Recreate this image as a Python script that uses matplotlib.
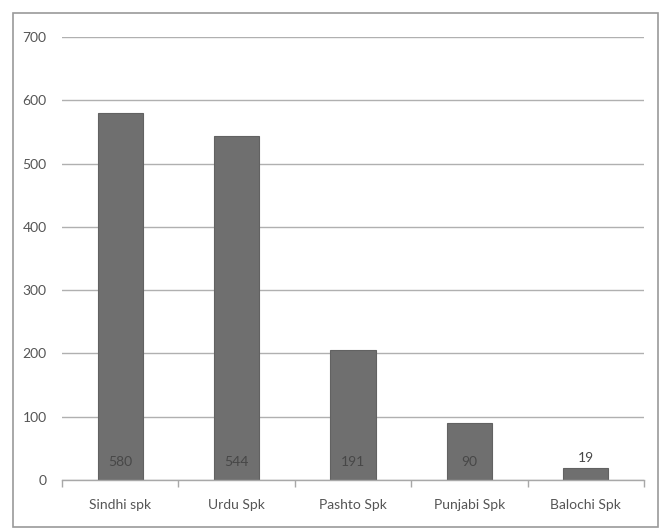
import matplotlib.pyplot as plt
from matplotlib.patches import Rectangle
import numpy as np

categories = ['Sindhi spk', 'Urdu Spk', 'Pashto Spk', 'Punjabi Spk', 'Balochi Spk']
bar_values = [580, 544, 205, 90, 19]
bar_labels = ['580', '544', '191', '90', '19']
y_ticks = [0, 100, 200, 300, 400, 500, 600, 700]

plt.rcParams['font.family'] = ['Lato', 'DejaVu Sans']

fig = plt.figure(figsize=(6.66, 5.32), dpi=100)
fig.patch.set_facecolor('white')

# outer chart frame
fig.patches.append(Rectangle((13 / 666, 5 / 532), 645 / 666, 514 / 532,
                             transform=fig.transFigure, fill=False,
                             edgecolor='#9a9a9a', lw=1.2))

ax = fig.add_axes([62 / 666, 52 / 532, 582 / 666, 443 / 532])
x = np.arange(len(categories))
bars = ax.bar(x, bar_values, width=0.39, color='#6f6f6f',
              edgecolor='#626262', lw=0.8, zorder=3)

for xi, v, lab in zip(x, bar_values, bar_labels):
    if v > 50:
        ax.annotate(lab, (xi, 0), xytext=(0, 18), textcoords='offset pixels',
                    ha='center', va='center', fontsize=10, color='#474747',
                    zorder=4)
    else:
        ax.annotate(lab, (xi, v), xytext=(0, 10), textcoords='offset pixels',
                    ha='center', va='center', fontsize=10, color='#474747',
                    zorder=4)

ax.set_xlim(-0.5, len(categories) - 0.5)
ax.set_ylim(0, 700)
ax.set_yticks(y_ticks)
ax.set_xticks(x)
ax.set_xticklabels(categories)
ax.set_xticks(np.arange(-0.5, len(categories)), minor=True)

ax.grid(axis='y', color='#b0b0b0', lw=1, zorder=0)
for side in ['left', 'right', 'top']:
    ax.spines[side].set_visible(False)
ax.spines['bottom'].set_color('#a8a8a8')
ax.spines['bottom'].set_linewidth(1)
ax.spines['bottom'].set_zorder(5)

ax.tick_params(axis='y', length=0, pad=11, labelsize=10, labelcolor='#555555')
ax.tick_params(axis='x', which='major', length=0, pad=14, labelsize=10,
               labelcolor='#555555')
ax.tick_params(axis='x', which='minor', length=5, color='#a8a8a8', width=1)

fig.savefig('out.png', dpi=100, facecolor='white')
